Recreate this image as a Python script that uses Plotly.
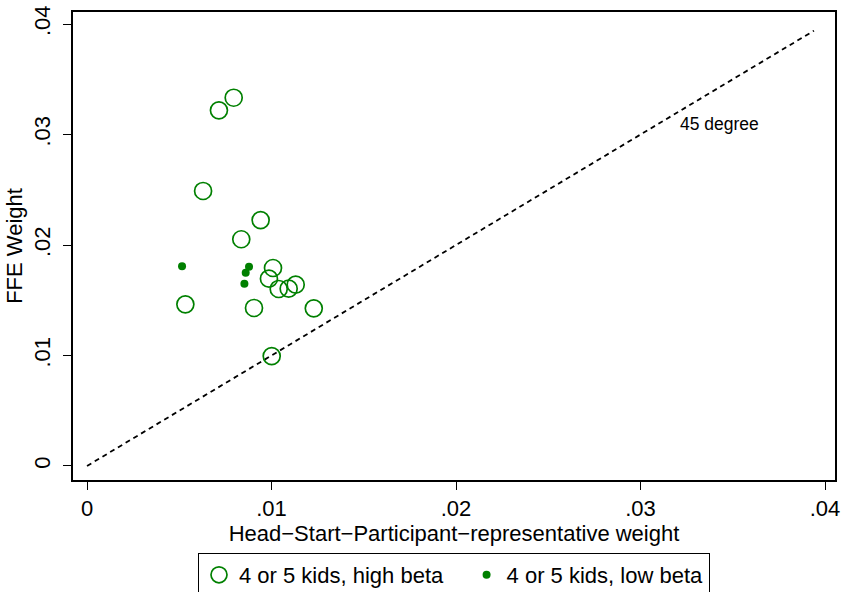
import plotly.graph_objects as go

# Data
high_x = [0.00795, 0.00715, 0.00629, 0.00941, 0.00836, 0.01008, 0.00986, 0.01039,
          0.01093, 0.01131, 0.00533, 0.00905, 0.01229, 0.01001]
high_y = [0.03333, 0.03219, 0.02489, 0.02226, 0.02052, 0.01792, 0.01695, 0.01602,
          0.01605, 0.01641, 0.01463, 0.01430, 0.01427, 0.00995]
low_x = [0.00515, 0.00878, 0.00860, 0.00853]
low_y = [0.01807, 0.01804, 0.01750, 0.01650]
line_x = [0.0, 0.0394]
line_y = [0.0, 0.0394]
tick_vals = [0, 0.01, 0.02, 0.03, 0.04]
tick_text = ["0", ".01", ".02", ".03", ".04"]
legend_names = ["4 or 5 kids, high beta", "4 or 5 kids, low beta"]

GREEN = "rgb(0,128,0)"
FONT = "Liberation Sans, Arial, sans-serif"
PAD = "\u00a0" * 3  # spacing between the two legend columns

fig = go.Figure()
fig.add_trace(go.Scatter(x=line_x, y=line_y, mode="lines",
                         line=dict(color="black", width=1.8, dash="5px,4px"),
                         showlegend=False, hoverinfo="skip"))
fig.add_trace(go.Scatter(x=high_x, y=high_y, mode="markers", name=legend_names[0] + PAD,
                         marker=dict(symbol="circle-open", size=17, color=GREEN,
                                     line=dict(width=1.7, color=GREEN))))
fig.add_trace(go.Scatter(x=low_x, y=low_y, mode="markers", name=legend_names[1],
                         marker=dict(symbol="circle", size=8, color=GREEN)))

fig.add_annotation(x=0.03203, y=0.03095, text="45 degree", showarrow=False,
                   xanchor="left", yanchor="middle",
                   font=dict(family=FONT, size=17.5, color="black"))

axis_common = dict(showgrid=False, zeroline=False, showline=True, linecolor="black",
                   linewidth=1.5, mirror=True, ticks="outside", ticklen=8,
                   tickwidth=1.2, tickcolor="black", automargin=False,
                   tickfont=dict(family=FONT, size=22, color="black"),
                   tickvals=tick_vals, ticktext=tick_text)

fig.update_layout(
    width=842, height=592,
    margin=dict(l=73, r=7, t=12, b=112),
    paper_bgcolor="white", plot_bgcolor="white",
    font=dict(family=FONT, size=22, color="black"),
    xaxis=dict(range=[-0.00076, 0.04054],
               title=dict(text="Head\u2212Start\u2212Participant\u2212representative weight",
                          font=dict(family=FONT, size=22, color="black"), standoff=2),
               **axis_common),
    yaxis=dict(range=[-0.00127, 0.04109], tickangle=-90, ticklabelstandoff=4,
               title=dict(text="FFE Weight", font=dict(family=FONT, size=22, color="black"),
                          standoff=2),
               **axis_common),
    legend=dict(orientation="h", x=0.5, xanchor="center",
                yref="container", y=1 - 553 / 592, yanchor="top",
                bordercolor="black", borderwidth=1,
                font=dict(family=FONT, size=22, color="black"),
                itemwidth=30),
)

fig.write_html("out.html", config={"displayModeBar": False},
               post_script="document.body.style.margin='0px';")
